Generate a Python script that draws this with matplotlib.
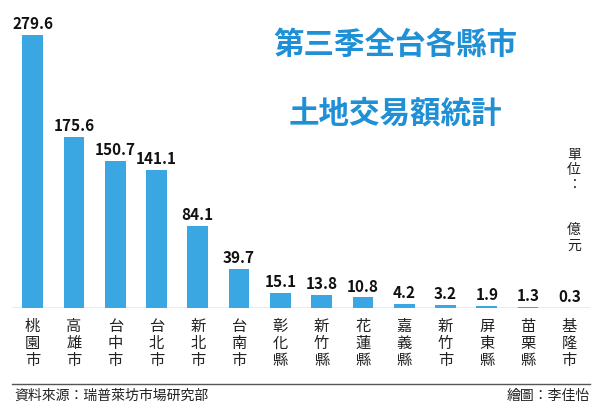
import matplotlib
matplotlib.use("Agg")
import matplotlib.pyplot as plt
from matplotlib import font_manager

cities = ["桃園市","高雄市","台中市","台北市","新北市","台南市","彰化縣","新竹縣","花蓮縣","嘉義縣","新竹市","屏東縣","苗栗縣","基隆市"]
values = [279.6,175.6,150.7,141.1,84.1,39.7,15.1,13.8,10.8,4.2,3.2,1.9,1.3,0.3]
labels = ["279.6","175.6","150.7","141.1","84.1","39.7","15.1","13.8","10.8","4.2","3.2","1.9","1.3","0.3"]

names = {f.name for f in font_manager.fontManager.ttflist}
cjk = [n for n in ["Noto Sans CJK TC","Noto Sans CJK JP","Noto Sans CJK SC","Noto Sans CJK KR"] if n in names]
if not cjk:
    cjk = [f.name for f in font_manager.fontManager.ttflist if "CJK" in f.name][:1]
plt.rcParams["font.family"] = cjk + ["DejaVu Sans"]

W, H = 600, 413
fig = plt.figure(figsize=(6, 4.13), dpi=100)
ax = fig.add_axes([12/W, 1-308/H, 578/W, 308/H])
x = range(len(values))
ax.bar(x, values, width=0.5, color="#3ba7e2")
ax.set_xlim(-0.5, 13.5)
ax.set_ylim(0, 315.4)
ax.axis("off")
ax.axhline(0, color="#999999", lw=1)
for i, (v, l) in enumerate(zip(values, labels)):
    ax.text(i, v + 3, l, ha="center", va="bottom", fontsize=11, fontweight="bold", color="#111111")
    ax.text(i, -10, "\n".join(cities[i]), ha="center", va="top", fontsize=11, color="#222222", linespacing=1.0)

fig.text(395/W, 1-45/H, "第三季全台各縣市", ha="center", va="center", fontsize=22, fontweight="bold", color="#1f8fd6")
fig.text(395/W, 1-113/H, "土地交易額統計", ha="center", va="center", fontsize=22, fontweight="bold", color="#1f8fd6")
fig.text(574/W, 1-170/H, "單\n位\n：", ha="center", va="center", fontsize=10, color="#222222", linespacing=1.1)
fig.text(574/W, 1-238/H, "億\n元", ha="center", va="center", fontsize=10, color="#222222", linespacing=1.1)
fig.add_artist(plt.Line2D([12/W, 590/W], [1-384/H, 1-384/H], color="#555555", lw=1))
fig.text(14/W, 1-396/H, "資料來源：瑞普萊坊市場研究部", ha="left", va="center", fontsize=10, color="#222222")
fig.text(590/W, 1-396/H, "繪圖：李佳怡", ha="right", va="center", fontsize=10, color="#222222")
fig.savefig("out.png", dpi=100)
